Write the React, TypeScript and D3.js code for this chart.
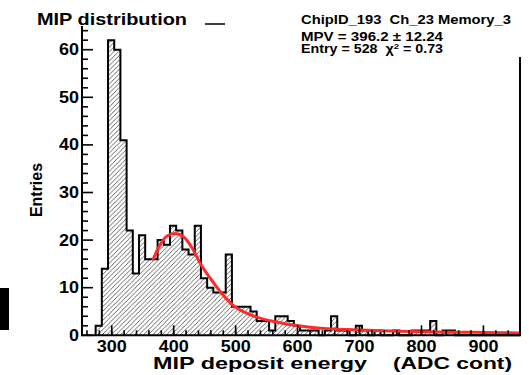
import React from "react";
import * as d3 from "d3";

// Histogram: lower edge of first bin, bin width, and entries per bin
const BIN_START = 274;
const BIN_WIDTH = 10;
const binCounts = [
  2, 14, 62, 60, 41, 22, 13, 21, 16, 16,
  20, 19, 23, 22, 18, 17, 23, 12, 10, 9,
  9, 17, 6, 6, 6, 5, 3, 3, 1, 4,
  4, 3, 2, 1, 1, 1, 0, 1, 4, 1,
  1, 0, 2, 1, 0, 1, 0, 0, 1, 0,
  0, 1, 1, 1, 3, 0, 1, 1, 0, 0,
  0, 0, 0, 0, 0, 0, 0, 0, 0,
];

// Landau fit curve samples (ADC, entries)
const fitX = [367, 378, 390, 402, 415, 430, 443, 459, 475, 496, 520, 545, 570, 590, 620, 660, 700, 750, 800, 850, 900, 959];
const fitY = [16.0, 19.0, 20.9, 21.4, 20.8, 18.3, 15.1, 12.0, 9.2, 6.3, 4.5, 3.4, 2.7, 2.2, 1.7, 1.3, 1.1, 0.9, 0.75, 0.65, 0.6, 0.5];

const xTickValues = [300, 400, 500, 600, 700, 800, 900];
const yTickValues = [0, 10, 20, 30, 40, 50, 60];

const FONT = "'Liberation Sans', Arial, Helvetica, sans-serif";

export default function App() {
  const W = 529;
  const H = 375;
  const x = d3.scaleLinear().domain([252, 959]).range([82, 520]);
  const y = d3.scaleLinear().domain([0, 65]).range([335.3, 25.9]);

  const bins = binCounts.map((c, i) => ({
    x0: BIN_START + i * BIN_WIDTH,
    x1: BIN_START + (i + 1) * BIN_WIDTH,
    c,
  }));

  const stepPts: [number, number][] = [];
  stepPts.push([x(bins[0].x0), y(0)]);
  bins.forEach((b) => {
    stepPts.push([x(b.x0), y(b.c)]);
    stepPts.push([x(b.x1), y(b.c)]);
  });
  stepPts.push([x(bins[bins.length - 1].x1), y(0)]);
  const stepPath = d3.line()(stepPts) || "";

  const fitPath =
    d3
      .line<number>()
      .x((_, i) => x(fitX[i]))
      .y((d) => y(d))
      .curve(d3.curveMonotoneX)(fitY) || "";

  const x0 = x.range()[0];
  const x1 = x.range()[1];
  const yBase = y(0);

  const yMinor = d3.range(0, 65, 2);
  const xMinor = d3.range(260, 960, 20);

  return (
    <svg
      width={W}
      height={H}
      style={{ position: "absolute", left: 0, top: 0, background: "#fff" }}
      fontFamily={FONT}
    >
      <defs>
        <pattern id="hatch" patternUnits="userSpaceOnUse" width={4.6} height={4.6}>
          <path d="M-1,1 L1,-1 M0,4.6 L4.6,0 M3.6,5.6 L5.6,3.6" stroke="#555" strokeWidth={0.9} />
        </pattern>
        <clipPath id="frame">
          <rect x={x0} y={0} width={x1 - x0} height={H} />
        </clipPath>
      </defs>
      <rect x={0} y={0} width={W} height={H} fill="#fff" />

      <g clipPath="url(#frame)">
        <path d={stepPath} fill="url(#hatch)" stroke="none" />
        <path d={stepPath} fill="none" stroke="#000" strokeWidth={2} strokeLinejoin="miter" />
        <path d={fitPath} fill="none" stroke="#ff2b2b" strokeWidth={3} strokeLinecap="round" />
      </g>

      {/* frame lines */}
      <line x1={x0} x2={x0} y1={y(65)} y2={yBase} stroke="#000" strokeWidth={2} />
      <line x1={x1} x2={x1} y1={57} y2={yBase} stroke="#000" strokeWidth={2} />
      <line x1={x0 - 1} x2={x1 + 1} y1={yBase} y2={yBase} stroke="#000" strokeWidth={2} />

      {/* y ticks */}
      {yMinor.map((v) => (
        <line key={"ym" + v} x1={x0} x2={x0 + (v % 10 === 0 ? 11 : 6)} y1={y(v)} y2={y(v)} stroke="#000" strokeWidth={1.6} />
      ))}
      {yTickValues.map((v) => (
        <text
          key={"yl" + v}
          x={79}
          y={y(v) + 5.5}
          textAnchor="end"
          fontSize={16}
          fontWeight="bold"
          textLength={String(v).length * 10}
          lengthAdjust="spacingAndGlyphs"
        >
          {v}
        </text>
      ))}

      {/* x ticks */}
      {xMinor.map((v) => (
        <line key={"xm" + v} x1={x(v)} x2={x(v)} y1={yBase} y2={yBase - 5} stroke="#000" strokeWidth={1.6} />
      ))}
      {xTickValues.map((v) => (
        <line key={"xM" + v} x1={x(v)} x2={x(v)} y1={yBase} y2={yBase - 10} stroke="#000" strokeWidth={1.6} />
      ))}
      {xTickValues.map((v) => (
        <text
          key={"xl" + v}
          x={x(v)}
          y={352}
          textAnchor="middle"
          fontSize={16}
          fontWeight="bold"
          textLength={30}
          lengthAdjust="spacingAndGlyphs"
        >
          {v}
        </text>
      ))}

      {/* axis titles */}
      <text x={153} y={369} fontSize={17} fontWeight="bold" textLength={214} lengthAdjust="spacingAndGlyphs">
        MIP deposit energy
      </text>
      <text x={393} y={369} fontSize={17} fontWeight="bold" textLength={119} lengthAdjust="spacingAndGlyphs">
        (ADC cont)
      </text>
      <text
        transform="translate(42,190) rotate(-90)"
        textAnchor="middle"
        fontSize={17}
        fontWeight="bold"
        textLength={54}
        lengthAdjust="spacingAndGlyphs"
      >
        Entries
      </text>

      {/* title and stats */}
      <text x={37} y={25} fontSize={16.5} fontWeight="bold" textLength={150} lengthAdjust="spacingAndGlyphs">
        MIP distribution
      </text>
      <line x1={205} x2={225} y1={24} y2={24} stroke="#000" strokeWidth={1.5} />
      <text
        x={301}
        y={24}
        fontSize={12}
        fontWeight="bold"
        textLength={210}
        lengthAdjust="spacingAndGlyphs"
        style={{ whiteSpace: "pre" }}
      >
        {"ChipID_193  Ch_23 Memory_3"}
      </text>
      <text x={301} y={40.5} fontSize={12} fontWeight="bold" textLength={142} lengthAdjust="spacingAndGlyphs">
        MPV = 396.2 ± 12.24
      </text>
      <text
        x={301}
        y={53}
        fontSize={12}
        fontWeight="bold"
        textLength={142}
        lengthAdjust="spacingAndGlyphs"
        style={{ whiteSpace: "pre" }}
      >
        {"Entry = 528  χ"}
        <tspan fontSize={8} dy={-4}>2</tspan>
        <tspan dy={4}>{" = 0.73"}</tspan>
      </text>

      <rect x={0} y={288} width={9} height={42} fill="#000" />
    </svg>
  );
}
